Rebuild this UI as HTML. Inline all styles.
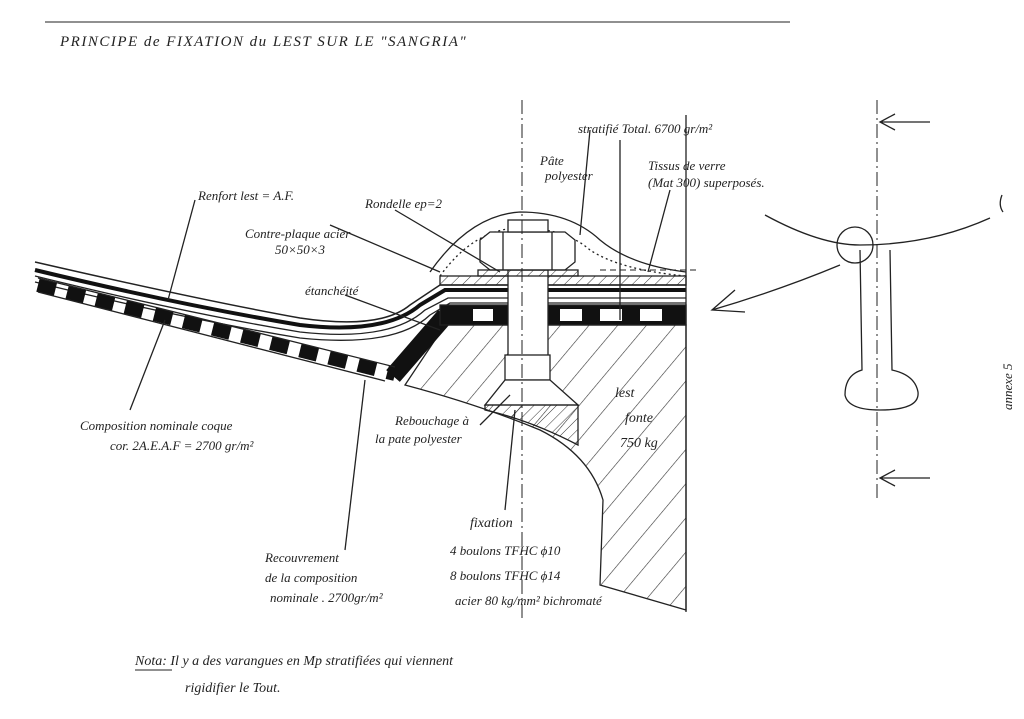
<!DOCTYPE html>
<html><head><meta charset="utf-8"><style>
html,body{margin:0;padding:0;background:#fff;width:1024px;height:719px;overflow:hidden}
svg{display:block}
text{font-family:"Liberation Serif",serif;font-style:italic;fill:#222}
</style></head><body>
<svg width="1024" height="719" viewBox="0 0 1024 719" xmlns="http://www.w3.org/2000/svg">
<defs>
<pattern id="h" width="22" height="22" patternUnits="userSpaceOnUse" patternTransform="rotate(40)">
<line x1="0" y1="0" x2="0" y2="22" stroke="#333" stroke-width="1.2"/></pattern>
<pattern id="h2" width="8" height="8" patternUnits="userSpaceOnUse" patternTransform="rotate(45)">
<line x1="0" y1="0" x2="0" y2="8" stroke="#333" stroke-width="1"/></pattern>
</defs>
<g stroke="#222" fill="none" stroke-width="1.3">
<line x1="45" y1="22" x2="790" y2="22" stroke-width="1"/>
<path d="M405,385 L445,325 L686,325 L686,610 L600,585 L603,500 Q590,455 540,430 Q480,405 405,385 Z" fill="url(#h)"/>
<path d="M35,262 Q200,300 300,318 Q380,330 410,305 L440,285 L686,285" stroke-width="1.5"/>
<path d="M35,270 Q180,305 300,325 Q385,335 420,305 L445,290 L686,290" stroke-width="4" stroke="#111"/>
<path d="M35,276 Q180,312 300,332 Q390,342 425,310 L448,298 L686,298"/>
<path d="M35,282 Q180,318 300,338 Q395,348 430,315 L450,303 L686,303"/>
<path d="M38,285 L395,374" stroke-width="14" stroke="#111" stroke-dasharray="18 12"/>
<path d="M393,376 L445,316" stroke-width="18" stroke="#111"/>
<rect x="440" y="305" width="246" height="20" fill="#111"/>
<rect x="473" y="309" width="20" height="12" fill="#fff" stroke="none"/>
<rect x="560" y="309" width="22" height="12" fill="#fff" stroke="none"/>
<rect x="600" y="309" width="22" height="12" fill="#fff" stroke="none"/>
<rect x="640" y="309" width="22" height="12" fill="#fff" stroke="none"/>
<path d="M38,278 L395,367"/><path d="M38,292 L385,381"/>
<rect x="440" y="276" width="246" height="9" fill="url(#h2)"/>
<path d="M430,272 Q470,215 520,212 Q570,212 600,240 Q630,265 686,272"/>
<path d="M440,276 Q475,228 520,228 Q565,228 590,250 Q620,270 686,276" stroke-dasharray="2 3"/>
<rect x="508" y="270" width="40" height="88" fill="#fff"/>
<path d="M480,240 L490,232 L565,232 L575,240 L575,262 L565,270 L490,270 L480,262 Z" fill="#fff"/>
<line x1="503" y1="232" x2="503" y2="270"/><line x1="552" y1="232" x2="552" y2="270"/>
<rect x="508" y="220" width="40" height="12" fill="#fff"/>
<rect x="478" y="270" width="100" height="6" fill="url(#h2)"/>
<rect x="505" y="355" width="45" height="25" fill="#fff"/>
<path d="M505,380 L550,380 L578,405 L485,405 Z" fill="#fff"/>
<path d="M485,405 L578,405 L578,445 Q530,420 485,410 Z" fill="url(#h2)"/>
<line x1="522" y1="100" x2="522" y2="620" stroke-dasharray="14 4 2 4" stroke-width="1"/>
<line x1="686" y1="115" x2="686" y2="612"/>
<line x1="600" y1="270" x2="700" y2="270" stroke-dasharray="6 4" stroke-width="1"/>
<path d="M195,200 L168,300"/><path d="M330,225 L440,272"/><path d="M395,210 L500,272"/>
<path d="M590,130 L580,235"/><path d="M620,140 L620,320"/><path d="M670,190 L648,272"/>
<path d="M345,295 L440,330"/><path d="M165,320 L130,410"/><path d="M365,380 L345,550"/>
<path d="M480,425 L510,395"/><path d="M515,410 L505,510"/>
<line x1="877" y1="100" x2="877" y2="500" stroke-dasharray="14 4 2 4" stroke-width="1"/>
<path d="M930,122 L880,122 M895,114 L880,122 L895,130"/>
<path d="M930,478 L880,478 M895,470 L880,478 L895,486"/>
<path d="M765,215 Q820,245 860,245 Q930,245 990,218"/>
<circle cx="855" cy="245" r="18"/>
<path d="M860,250 L862,370 Q845,375 845,395 Q848,410 880,410 Q920,410 918,392 Q915,375 892,370 L890,250"/>
<path d="M840,265 Q780,290 712,310 M735,290 L712,310 L745,312"/>
<path d="M1002,195 Q998,205 1003,212"/>
</g>
<g font-size="15">
<text x="60" y="46" font-style="normal" font-size="15" letter-spacing="1.5">PRINCIPE de FIXATION du LEST  SUR LE "SANGRIA"</text>
<text x="578" y="133" font-size="13">stratifié Total. 6700 gr/m²</text>
<text x="540" y="165" font-size="13">Pâte</text><text x="545" y="180" font-size="13">polyester</text>
<text x="648" y="170" font-size="13">Tissus de verre</text><text x="648" y="187" font-size="13">(Mat 300) superposés.</text>
<text x="198" y="200" font-size="13">Renfort lest = A.F.</text>
<text x="365" y="208" font-size="13">Rondelle ep=2</text>
<text x="245" y="238" font-size="13">Contre-plaque acier</text><text x="275" y="254" font-size="13">50×50×3</text>
<text x="305" y="295" font-size="13">étanchéité</text>
<text x="80" y="430" font-size="13">Composition nominale coque</text>
<text x="110" y="450" font-size="13">cor. 2A.E.A.F = 2700 gr/m²</text>
<text x="395" y="425" font-size="13">Rebouchage à</text><text x="375" y="443" font-size="13">la pate polyester</text>
<text x="615" y="397" font-size="14">lest</text><text x="625" y="422" font-size="14">fonte</text><text x="620" y="447" font-size="14">750 kg</text>
<text x="470" y="527" font-size="14">fixation</text>
<text x="450" y="555" font-size="13">4 boulons TFHC ϕ10</text>
<text x="450" y="580" font-size="13">8 boulons TFHC ϕ14</text>
<text x="455" y="605" font-size="13">acier 80 kg/mm² bichromaté</text>
<text x="265" y="562" font-size="13">Recouvrement</text>
<text x="265" y="582" font-size="13">de la composition</text>
<text x="270" y="602" font-size="13">nominale . 2700gr/m²</text>
<text x="135" y="665" font-size="14">Nota: Il y a des varangues en Mp stratifiées qui viennent</text>
<text x="185" y="692" font-size="14">rigidifier  le Tout.</text>
<text x="0" y="0" font-size="13" transform="translate(1012,410) rotate(-90)">annexe 5</text>
</g>
<line x1="135" y1="670" x2="172" y2="670" stroke="#222"/>
</svg>
</body></html>
